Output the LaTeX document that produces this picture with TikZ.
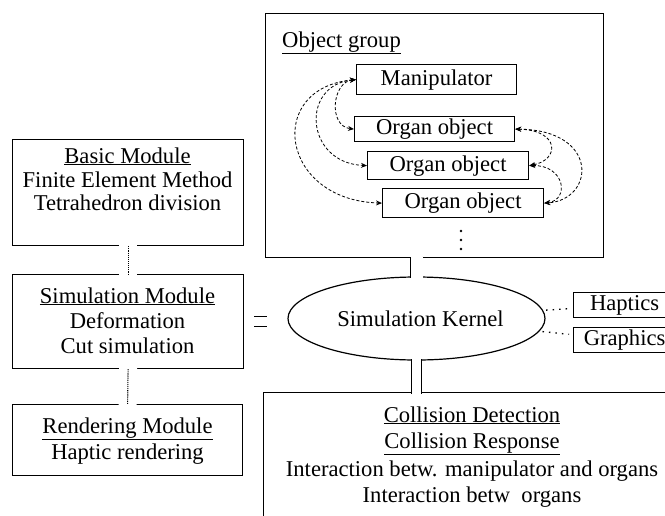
\documentclass[tikz,border=0pt]{standalone}
\usepackage{fontspec}
\setmainfont{Liberation Serif}
\usetikzlibrary{shapes.geometric,arrows.meta}
\begin{document}
\begin{tikzpicture}[x=1pt,y=-1pt,
  box/.style={draw, line width=1.2pt, inner sep=0pt, anchor=north west, font=\fontsize{22.6}{24}\selectfont},
  txt/.style={font=\fontsize{22.6}{24}\selectfont, inner sep=0pt, anchor=base},
  tip/.tip={Stealth[length=6pt,width=5pt]},
  rel/.style={dash pattern=on 3pt off 2pt, line width=0.8pt, tip-tip},
  pipe/.style={double=white, double distance=9pt, line width=0.9pt, shorten <=-1.5pt, shorten >=-1.5pt},
  gapw/.style={white, line width=18pt, shorten <=-1.5pt, shorten >=-1.5pt},
  dotc/.style={densely dotted, line width=1.1pt},
  sparse/.style={dash pattern=on 1.5pt off 5pt, line width=1.3pt, shorten <=3pt, shorten >=4pt}]
\useasboundingbox (0,0) rectangle (665,515);
\clip (0,0) rectangle (665,515);

% object group
\node[box, minimum width=338pt, minimum height=244pt] (grp) at (265,13) {};
\node[txt, anchor=base west] (tgrp) at (282,47) {\underline{Object group}};
\node[box, minimum width=160pt, minimum height=30pt] (manip) at (356,64) {Manipulator};
\node[box, minimum width=160pt, minimum height=25pt] (org1) at (354,116) {Organ object};
\node[box, minimum width=161pt, minimum height=28pt] (org2) at (367,151) {Organ object};
\node[box, minimum width=161pt, minimum height=29pt] (org3) at (382,188) {Organ object};
\fill (461,231) circle (1.3pt) (461,240) circle (1.3pt) (461,249) circle (1.3pt);

\draw[rel] (manip.west) .. controls (332,82) and (328,126) .. (org1.west);
\draw[rel] (manip.west) .. controls (300,85) and (305,163) .. (org2.west);
\draw[rel] (manip.west) .. controls (265,88) and (280,200) .. (org3.west);
\draw[rel] (org1.east) .. controls (560,130) and (560,160) .. (org2.east);
\draw[rel] (org1.east) .. controls (600,130) and (595,200) .. (org3.east);
\draw[rel] (org2.east) .. controls (565,165) and (570,200) .. (org3.east);

% left modules
\node[box, minimum width=231pt, minimum height=106pt] (basic) at (12,139) {};
\node[txt] (b1) at (127.5,163) {\underline{Basic Module}};
\node[txt] (b2) at (127.5,187) {Finite Element Method};
\node[txt] (b3) at (127.5,210) {Tetrahedron division};

\node[box, minimum width=231pt, minimum height=94pt] (sim) at (12,274) {};
\node[txt] (s1) at (127.5,303) {\underline{Simulation Module}};
\node[txt] (s2) at (127.5,328) {Deformation};
\node[txt] (s3) at (127.5,353) {Cut simulation};

\node[box, minimum width=230pt, minimum height=71pt] (rend) at (12,404) {};
\node[txt] (r1) at (127.5,433) {\underline{Rendering Module}};
\node[txt] (r2) at (127.5,459) {Haptic rendering};

% kernel
\node[draw, ellipse, line width=1.2pt, minimum width=257pt, minimum height=83pt, inner sep=0pt,
  font=\fontsize{22.6}{24}\selectfont] (kernel) at (416.5,318.5) {\raisebox{-2pt}{\hspace{8pt}Simulation Kernel}};

% right boxes
\node[box, minimum width=102pt, minimum height=25pt] (hap) at (573,292) {Haptics};
\node[box, minimum width=102pt, minimum height=25pt] (gra) at (573,327) {Graphics};

% collision box
\node[box, minimum width=428pt, minimum height=140pt] (coll) at (263,392) {};
\node[txt] (c1) at (472,422) {\underline{Collision Detection}};
\node[txt] (c2) at (472,448) {\underline{Collision Response}};
\node[txt] (c3) at (472,476) {Interaction betw. manipulator and organs};
\node[txt] (c4) at (472,502) {Interaction betw\ \ organs};

% connectors
\draw[pipe, double distance=12pt] (grp.south -| kernel.north) -- (kernel.north);
\draw[pipe] (kernel.south) -- (kernel.south |- coll.north);
\draw[gapw] (basic.south) -- (sim.north);
\draw[dotc] (basic.south) -- (sim.north);
\draw[gapw] (sim.south) -- (rend.north);
\draw[dotc] (sim.south) -- (rend.north);
\draw[double, double distance=9pt, line width=0.9pt, shorten <=10pt, shorten >=20pt] (sim.east) -- (sim.east -| kernel.west);
\draw[sparse] (kernel) -- (hap);
\draw[sparse] (kernel) -- (gra);
\end{tikzpicture}
\end{document}
